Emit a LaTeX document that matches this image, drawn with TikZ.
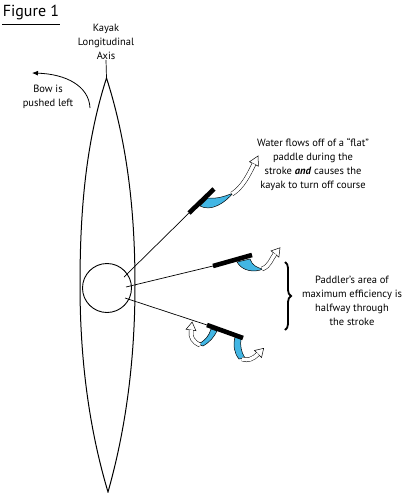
\documentclass[tikz,border=0pt]{standalone}
\usepackage{fontspec}
\setmainfont{PT Sans}
\usetikzlibrary{arrows.meta,calc,decorations.pathreplacing}
\definecolor{water}{RGB}{66,182,228}
\tikzset{
  px/.style={x=1pt, y=-1pt},                                        % pixel grid, y pointing down
  hull/.style={black, line width=1pt},
  pole/.style={black, line width=0.7pt},                            % paddle shaft
  blade/.style={black, line width=4.6pt},                           % paddle blade
  splash/.style={fill=water, draw=black, line width=0.5pt},         % water on the blade face
  flow/.style={draw=black, line width=0.5pt, double=white, double distance=3.5pt}, % hollow ribbon
  flowhead/.style={fill=white, draw=black, line width=0.5pt},       % hollow ribbon tip
  push/.style={black, line width=0.8pt, -{Latex[length=6pt,width=5pt]}},
  note/.style={font=\fontsize{10.5}{14}\selectfont, align=center, inner sep=0pt},
  brc/.style={decorate, decoration={brace, amplitude=6pt}, line width=1.8pt},
}

\begin{document}
\begin{tikzpicture}[px]
  \useasboundingbox (0,0) rectangle (411,493);

  % --- title ---
  \node[font=\fontsize{16}{18}\selectfont, inner sep=0pt] (title) at (31,12) {Figure 1};
  \draw[line width=1.2pt] (2,24.5) -- (60,24.5);

  % --- kayak hull ---
  \coordinate (bow) at (106.5,78);
  \coordinate (stern) at (108,492);
  \draw[hull] (bow) .. controls (85,145) and (80,215) .. (80,285)
       .. controls (80,355) and (88,425) .. (stern)
       .. controls (127,425) and (135,355) .. (135,285)
       .. controls (135,215) and (128,145) .. (bow) -- cycle;

  % --- longitudinal axis ---
  \node[note] (axislbl) at (106,42) {Kayak\\Longitudinal\\Axis};
  \draw[pole] (axislbl.south) -- (bow);

  % --- bow is pushed left ---
  \node[note] (bowlbl) at (48,96.5) {Bow is\\pushed left};
  \coordinate (push0) at (90,108);
  \coordinate (push1) at (32,73);
  \draw[push] (push0) .. controls (89,86) and (66,74) .. (push1);

  % --- cockpit and paddle shafts ---
  \node[circle, draw, line width=0.9pt, minimum size=49pt, inner sep=0pt] (cockpit) at (107,288) {};
  \coordinate (h1) at (124,277);  \coordinate (b1s) at (189,213);  \coordinate (b1e) at (214,189);
  \coordinate (h2) at (126,287);  \coordinate (b2s) at (213,266);  \coordinate (b2e) at (252,255);
  \coordinate (h3) at (125,298);  \coordinate (b3s) at (207,325);  \coordinate (b3e) at (243,338);
  \draw[pole] (h1) -- (b1s);
  \draw[pole] (h2) -- (b2s);
  \draw[pole] (h3) -- (b3s);

  % --- water leaving the blades ---
  % early stroke
  \filldraw[splash] (200,206) .. controls (211,212) and (225,203) .. (233,193)
       .. controls (224,197) and (215,199) .. (208,198) -- cycle;
  \filldraw[flowhead] ($(254,164)!5pt!90:(249,174)$) -- ($(254,164)!-9pt!(249,174)$)
       -- ($(254,164)!5pt!-90:(249,174)$) -- cycle;
  \draw[flow] (232,194) .. controls (243,187) and (249,174) .. (254,164);
  % mid stroke
  \filldraw[splash] (237,262) .. controls (242,271) and (254,273) .. (263,269)
       .. controls (257,268) and (252,265) .. (250,259) -- cycle;
  \filldraw[flowhead] ($(275,254)!5pt!90:(271,259)$) -- ($(275,254)!-8pt!(271,259)$)
       -- ($(275,254)!5pt!-90:(271,259)$) -- cycle;
  \draw[flow] (262,269) .. controls (270,266) and (271,259) .. (275,254);
  % late stroke, inner edge
  \filldraw[splash] (211,329) .. controls (209,336) and (205,341) .. (198,344)
       -- (203,346) .. controls (210,342) and (214,337) .. (217,331) -- cycle;
  \filldraw[flowhead] ($(191,330)!5pt!90:(190,337)$) -- ($(191,330)!-8pt!(190,337)$)
       -- ($(191,330)!5pt!-90:(190,337)$) -- cycle;
  \draw[flow] (200,345) .. controls (193,342) and (190,337) .. (191,330);
  % late stroke, outer edge
  \filldraw[splash] (235,337) .. controls (233,345) and (234,353) .. (239,359)
       -- (245,358) .. controls (241,352) and (240,345) .. (241,339) -- cycle;
  \filldraw[flowhead] ($(258,354)!5pt!90:(253,359)$) -- ($(258,354)!-8pt!(253,359)$)
       -- ($(258,354)!5pt!-90:(253,359)$) -- cycle;
  \draw[flow] (242,359) .. controls (248,361) and (253,359) .. (258,354);

  % --- blades ---
  \draw[blade] (b1s) -- (b1e);
  \draw[blade] (b2s) -- (b2e);
  \draw[blade] (b3s) -- (b3e);

  % --- notes ---
  \node[note] (flatlbl) at (313,164) {Water flows off of a “flat”\\paddle during the\\stroke \textbf{\textit{and}} causes the\\kayak to turn off course};
  \coordinate (brc0) at (285,262);
  \coordinate (brc1) at (285,330);
  \draw[brc] (brc0) -- (brc1);
  \node[note] (efflbl) at (352,300.5) {Paddler’s area of\\maximum efficiency is\\halfway through\\the stroke};
\end{tikzpicture}
\end{document}
